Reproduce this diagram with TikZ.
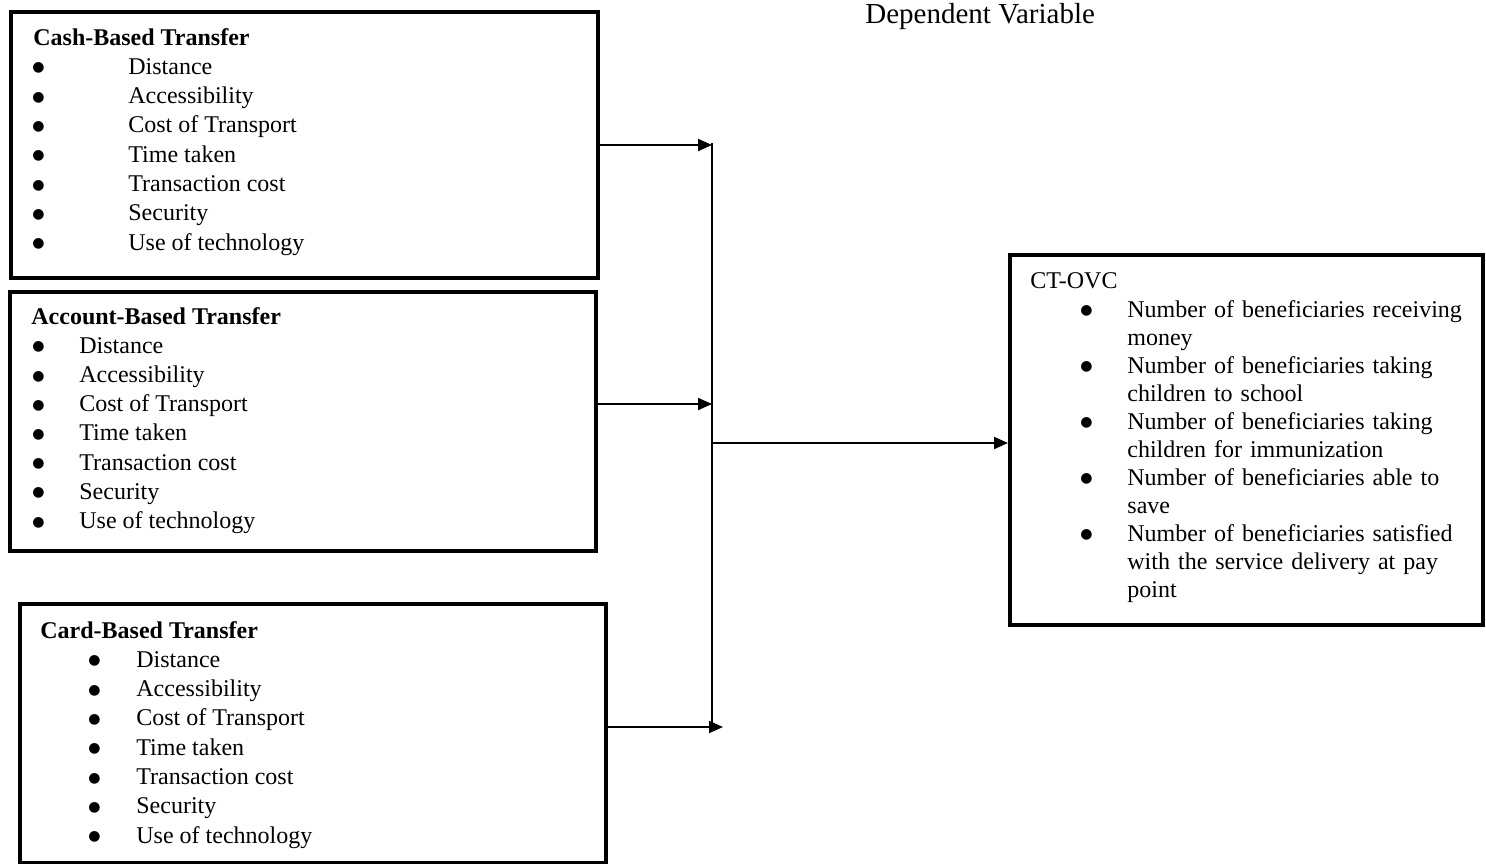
\documentclass[tikz,border=0pt]{standalone}
\usepackage{fontspec}
\setmainfont{Liberation Serif}
\newfontfamily\symfont{DejaVu Sans}
\usetikzlibrary{arrows.meta}

\newcommand{\bigbul}{\raisebox{1.2pt}{\symfont\fontsize{7}{8}\selectfont ●}}

\begin{document}
\begin{tikzpicture}[x=0.5pt,y=-0.5pt,
    box/.style={draw, line width=2pt, inner sep=0pt, anchor=north west},
    txt/.style={anchor=base west, inner sep=0pt, font=\fontsize{12}{14}\selectfont},
    head/.style={txt, font=\fontsize{12}{14}\selectfont\bfseries},
    bul/.style={txt, text height=5.5pt, text depth=0pt},
    conn/.style={line width=1pt, -{Triangle[length=7pt,width=6pt]}}]

  \useasboundingbox (0,0) rectangle (1486,863);

  \node[txt, font=\fontsize{14.5}{17}\selectfont] (dep) at (865,23) {Dependent Variable};

  % boxes
  \node[box, minimum width=293.5pt, minimum height=133pt] (cash) at (9,10) {};
  \node[box, minimum width=293pt, minimum height=129.5pt] (acc) at (8,290) {};
  \node[box, minimum width=293pt, minimum height=129.5pt] (card) at (18,602) {};
  \node[box, minimum width=236.5pt, minimum height=185pt] (ovc) at (1008,253) {};

  % cash
  \node[head] (cashh) at (33,45) {Cash-Based Transfer};
  \foreach \t [count=\i] in {Distance,Accessibility,Cost of Transport,Time taken,Transaction cost,Security,Use of technology}
  {
    \node[bul] (cashb\i) at (32,45+29.3*\i) {\bigbul};
    \node[txt] (cashi\i) at (128,45+29.3*\i) {\t};
  }

  % account
  \node[head] (acch) at (31,324) {Account-Based Transfer};
  \foreach \t [count=\i] in {Distance,Accessibility,Cost of Transport,Time taken,Transaction cost,Security,Use of technology}
  {
    \node[bul] (accb\i) at (32,324+29.2*\i) {\bigbul};
    \node[txt] (acci\i) at (79,324+29.2*\i) {\t};
  }

  % card
  \node[head] (cardh) at (40,638) {Card-Based Transfer};
  \foreach \t [count=\i] in {Distance,Accessibility,Cost of Transport,Time taken,Transaction cost,Security,Use of technology}
  {
    \node[bul] (cardb\i) at (88,638+29.3*\i) {\bigbul};
    \node[txt] (cardi\i) at (136,638+29.3*\i) {\t};
  }

  % ct-ovc
  \node[txt] (ovch) at (1030,288) {CT-OVC};
  \foreach \t/\y [count=\i] in {Number of beneficiaries receiving\\money/317,
      Number of beneficiaries taking\\children to school/373,
      Number of beneficiaries taking\\children for immunization/429,
      Number of beneficiaries able to\\save/485,
      Number of beneficiaries satisfied\\with the service delivery at pay\\point/541}
  {
    \node[bul] (ovcb\i) at (1080,\y) {\bigbul};
    \node[txt, text width=175pt, align=left] (ovci\i) at (1127,\y) {\t};
  }

  % connectors
  \coordinate (top) at (712,143);
  \coordinate (a2) at (712,404);
  \coordinate (c3) at (723,727);
  \coordinate (bot) at (712,727);
  \coordinate (mid) at (712,443);
  \draw[conn] (cash.east) -- (cash.east -| top);
  \draw[conn] (acc.east |- a2) -- (a2);
  \draw[conn] (card.east |- c3) -- (c3);
  \draw[line width=1pt] (top) -- (bot);
  \draw[conn] (mid) -- (ovc.west |- mid);

\end{tikzpicture}
\end{document}
